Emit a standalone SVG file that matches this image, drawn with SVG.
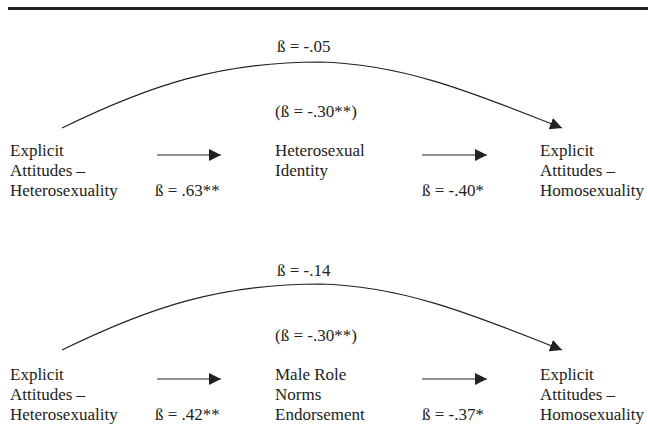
<svg xmlns="http://www.w3.org/2000/svg" width="648" height="427" viewBox="0 0 648 427">
<style>
text{font-family:"Liberation Serif","Times New Roman",serif;font-size:17px;fill:#222}
.c{fill:none;stroke:#222;stroke-width:1.2}
</style>
<defs>
<marker id="ah" viewBox="0 0 12 12" refX="12" refY="6" markerWidth="12" markerHeight="12" markerUnits="userSpaceOnUse" orient="auto">
<path d="M0,0 L12,6 L0,12 Z" fill="#222"/>
</marker>
</defs>
<rect x="8" y="7" width="640" height="3" fill="#222"/>
<g id="panel1">
<g id="n1a"><text x="10" y="156">Explicit</text><text x="10" y="176">Attitudes –</text><text x="10" y="196">Heterosexuality</text></g>
<g id="n1b"><text x="275" y="156">Heterosexual</text><text x="275" y="176">Identity</text></g>
<g id="n1c"><text x="540" y="156">Explicit</text><text x="540" y="176">Attitudes –</text><text x="540" y="196">Homosexuality</text></g>
<g id="connectors1">
<line class="c" x1="157" y1="155" x2="221" y2="155" marker-end="url(#ah)"/>
<line class="c" x1="422" y1="155" x2="487" y2="155" marker-end="url(#ah)"/>
<path class="c" d="M62,128 C150,85 220,62 320,62 C410,64 490,100 562,128" marker-end="url(#ah)"/>
</g>
<g id="labels1">
<text x="277" y="52">ß = -.05</text>
<text x="275" y="117">(ß = -.30**)</text>
<text x="155" y="196">ß = .63**</text>
<text x="422" y="196">ß = -.40*</text>
</g>
</g>
<g id="panel2" transform="translate(0,224)">
<g id="n2a"><text x="10" y="156">Explicit</text><text x="10" y="176">Attitudes –</text><text x="10" y="196">Heterosexuality</text></g>
<g id="n2b"><text x="275" y="156">Male Role</text><text x="275" y="176">Norms</text><text x="275" y="196">Endorsement</text></g>
<g id="n2c"><text x="540" y="156">Explicit</text><text x="540" y="176">Attitudes –</text><text x="540" y="196">Homosexuality</text></g>
<g id="connectors2">
<line class="c" x1="157" y1="155" x2="221" y2="155" marker-end="url(#ah)"/>
<line class="c" x1="422" y1="155" x2="487" y2="155" marker-end="url(#ah)"/>
<path class="c" d="M62,126 C150,83 220,60 320,60 C410,62 490,98 562,126" marker-end="url(#ah)"/>
</g>
<g id="labels2">
<text x="277" y="52">ß = -.14</text>
<text x="275" y="117">(ß = -.30**)</text>
<text x="155" y="196">ß = .42**</text>
<text x="422" y="196">ß = -.37*</text>
</g>
</g>
</svg>
